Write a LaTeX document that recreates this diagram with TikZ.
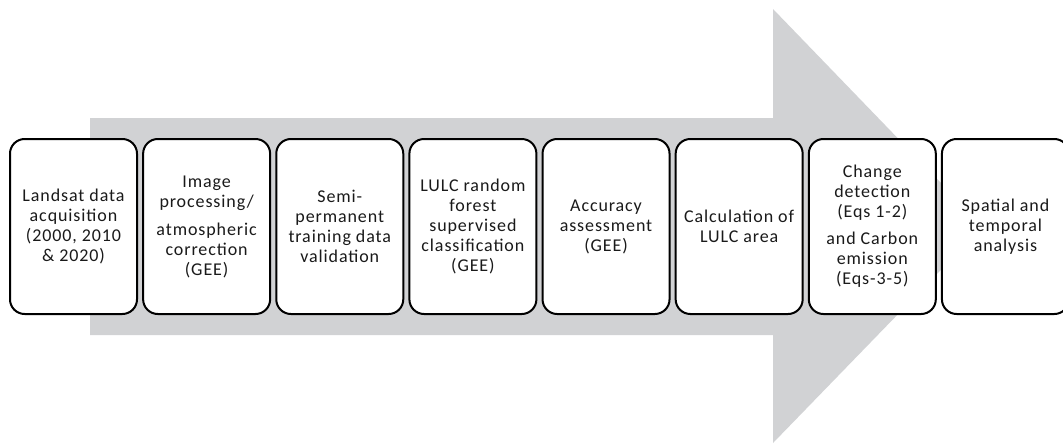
\documentclass[tikz,border=0pt]{standalone}
\usepackage{fontspec}
\setmainfont{Carlito}[LetterSpace=5]
\usepackage{xcolor}
\usepackage{tikz}
\usetikzlibrary{positioning}
\definecolor{arrowgrey}{HTML}{D1D2D4}
\definecolor{textdark}{HTML}{1A1A1A}

\tikzset{
  stepbox/.style={draw=black,fill=white,line width=1.5pt,rounded corners=11pt,
    minimum width=95.25pt,minimum height=131.25pt,outer sep=0pt,inner sep=2pt,
    align=center,text=textdark,font=\fontsize{13.5}{15}\selectfont}
}

\begin{document}
\begin{tikzpicture}[x=0.75pt,y=-0.75pt]
  \useasboundingbox (0,0) rectangle (1063,443);
  % big grey process arrow behind the steps
  \fill[arrowgrey] (90,118) -- (773,118) -- (773,9) -- (983,226.5) -- (773,443)
    -- (773,335) -- (90,335) -- cycle;
  % workflow steps
  \node[stepbox] (acq) at (73.5,226.5) {Landsat data\\acquisition\\(2000, 2010\\\& 2020)};
  \node[stepbox,right=4.6pt of acq] (proc) {Image\\processing/\\[6pt]atmospheric\\correction\\(GEE)};
  \node[stepbox,right=4.6pt of proc] (train) {Semi-\\permanent\\training data\\validation};
  \node[stepbox,right=4.6pt of train] (rf) {LULC random\\forest\\supervised\\classification\\(GEE)};
  \node[stepbox,right=4.6pt of rf] (acc) {Accuracy\\assessment\\(GEE)};
  \node[stepbox,right=4.6pt of acc] (area) {Calculation of\\LULC area};
  \node[stepbox,right=4.6pt of area] (change) {Change\\detection\\(Eqs 1-2)\\[5pt]and Carbon\\emission\\(Eqs-3-5)};
  \node[stepbox,right=4.6pt of change] (spat) {Spatial and\\temporal\\analysis};
\end{tikzpicture}
\end{document}
